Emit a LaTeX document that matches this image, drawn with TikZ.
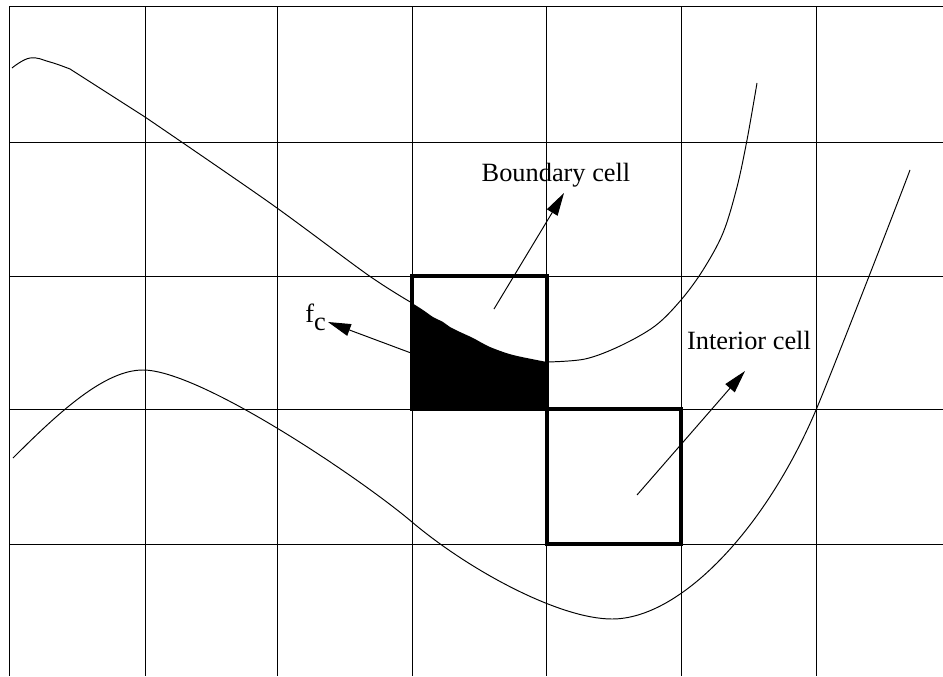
\documentclass[tikz,border=0pt]{standalone}
\usepackage{fontspec}
\setmainfont{Liberation Serif}
\usepackage{tikz}
\usetikzlibrary{arrows.meta}
\definecolor{ink}{RGB}{0,0,0}
\tikzset{
    gridline/.style={draw=ink,line width=0.55pt},
    curve/.style={draw=ink,line width=0.55pt},
    cellbox/.style={draw=ink,line width=2.3pt},
    arr/.style={-{Triangle[length=13pt,width=7pt]},line width=0.55pt},
    lbl/.style={inner sep=0pt,font=\fontsize{15}{17}\selectfont},
}
\begin{document}
\begin{tikzpicture}[x=0.02cm,y=-0.02cm]
\useasboundingbox (0,0) rectangle (943,676);
% grid
\foreach \x in {9,145,277,412,546,681,816}
  \draw[gridline] (\x,6) -- (\x,676);
\foreach \y in {6,142,276,409,544}
  \draw[gridline] (9,\y) -- (943,\y);
% cut part of the boundary cell
\fill[ink] (412,409) -- plot[smooth,tension=0.5] coordinates {(412,303) (423,310) (433,317) (443,322) (450,327) (460,332) (473,338) (490,347) (513,355) (547,362)} -- (547,409) -- cycle;
% upper front
\draw[curve] plot[smooth,tension=0.7] coordinates {(12,68) (30,58) (50,62) (70,69)}
  -- plot[smooth,tension=0.5] coordinates {(145,117) (270,203) (368,275) (412,303)};
\draw[curve] plot[smooth,tension=0.55] coordinates {(547,362) (585,359) (620,346) (655,326) (681,300) (703,270) (723,233) (737,187) (747,140) (757,83)};
% lower front
\draw[curve] (13,458) .. controls (60,411) and (105,370) .. (143,370)
  .. controls (200,370) and (360,478) .. (412,522)
  .. controls (470,571) and (560,619) .. (612,619)
  .. controls (680,619) and (765,530) .. (816,410)
  .. controls (830,377) and (895,210) .. (910,170);
% cells
\draw[cellbox] (412,276) rectangle (547,409);
\draw[cellbox] (547,409) rectangle (681,544);
% labels
\node[lbl,anchor=base] (lblbnd) at (556,181) {Boundary cell};
\node[lbl,anchor=base] (lblint) at (749,349) {Interior cell};
\node[lbl,anchor=base west] (lblfc) at (305,322) {f\raisebox{-5pt}{c}};
% arrows
\coordinate (bndtail) at (494,309);
\coordinate (bndtip)  at (564,193);
\coordinate (inttail) at (637,495);
\coordinate (inttip)  at (745,371);
\coordinate (fctail)  at (411,353);
\coordinate (fctip)   at (328,322);
\draw[arr] (bndtail) -- (bndtip);
\draw[arr] (inttail) -- (inttip);
\draw[arr] (fctail)  -- (fctip);
\end{tikzpicture}
\end{document}
